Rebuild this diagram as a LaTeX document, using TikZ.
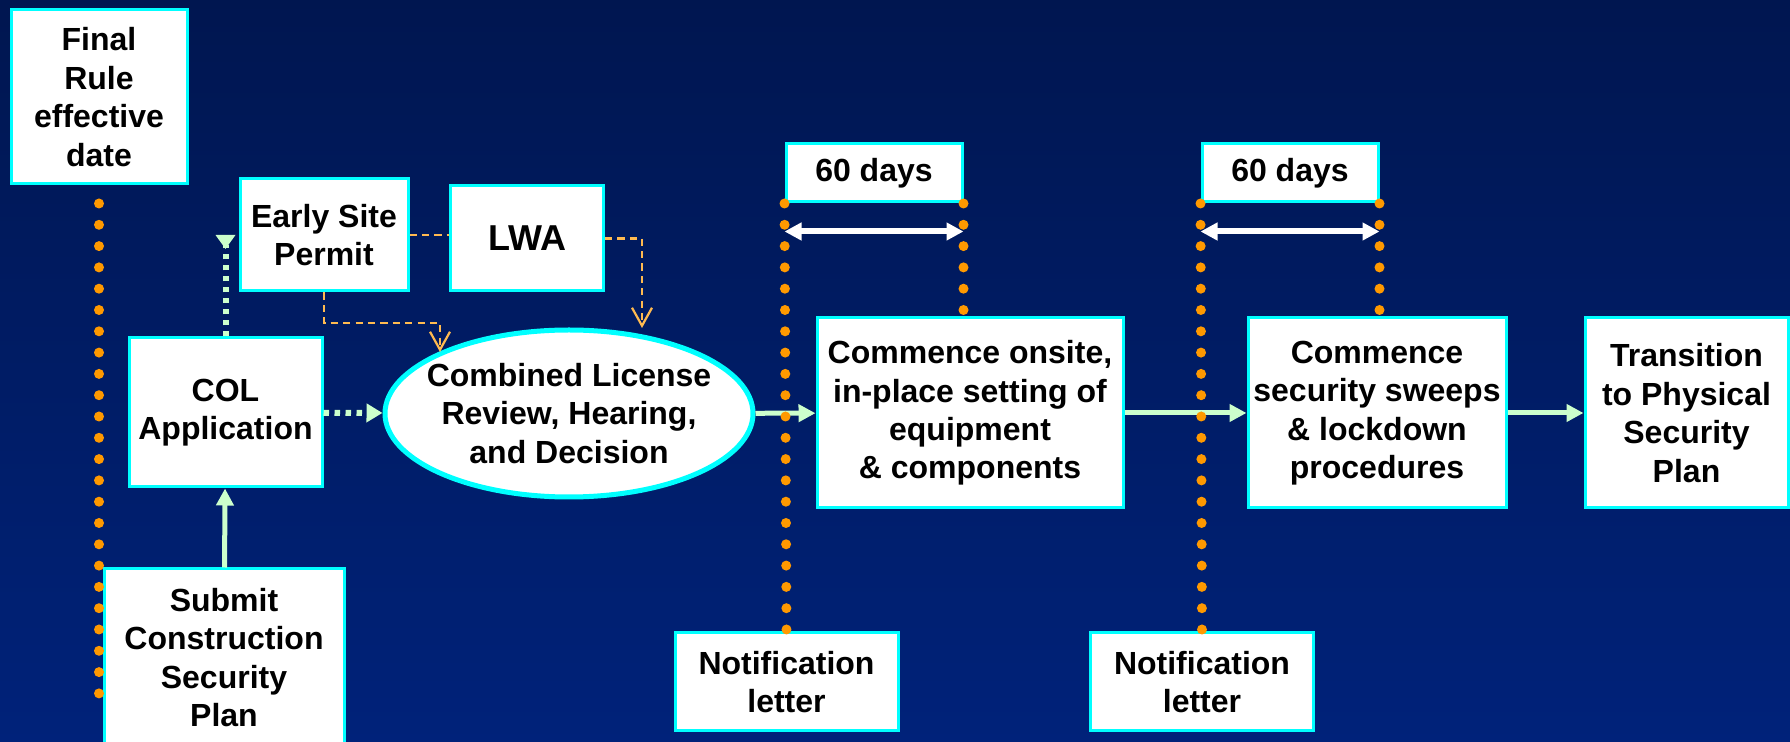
\documentclass[tikz,border=0pt]{standalone}
\usepackage{fontspec}
\setmainfont{Liberation Sans}
\usepackage{tikz}
\usetikzlibrary{arrows.meta, shapes.geometric}

\definecolor{bgtop}{RGB}{0,22,80}
\definecolor{bgbot}{RGB}{0,34,122}
\definecolor{rim}{RGB}{0,255,255}
\definecolor{dotorange}{RGB}{255,153,0}
\definecolor{dashorange}{RGB}{255,186,80}
\definecolor{paleflow}{RGB}{204,255,204}

\begin{document}
\begin{tikzpicture}[x=0.5pt, y=-0.5pt, font=\fontsize{16}{19.2}\selectfont\bfseries,
  stage/.style={draw=rim, fill=white, line width=1.5pt, shape=rectangle, align=center, inner sep=0pt},
  timeline/.style={draw=dotorange, line width=5pt, line cap=round, dash pattern=on 0pt off 10.65pt},
  flow/.style={color=paleflow, line width=2.5pt, -{Triangle[length=8.5pt,width=8.5pt]}},
  dotflow/.style={color=paleflow, line width=3pt, dash pattern=on 2.75pt off 2.75pt},
  permit/.style={draw=dashorange, line width=1.1pt, dash pattern=on 3.6pt off 2.6pt},
  span/.style={draw=white, line width=3pt, {Triangle[length=8.5pt,width=8.5pt]}-{Triangle[length=8.5pt,width=8.5pt]}}]

  \shade[top color=bgtop, bottom color=bgbot] (0,0) rectangle (1790,742);
  \useasboundingbox (0,0) rectangle (1790,742);

  \node[stage, minimum width=88pt, minimum height=87pt] (final) at (99,97) {Final\\Rule\\effective\\date};
  \node[stage, minimum width=84pt, minimum height=56pt] (esp) at (324,235) {Early Site\\Permit};
  \node[stage, minimum width=76.5pt, minimum height=52.5pt, font=\fontsize{18}{21.6}\selectfont\bfseries] (lwa) at (527,238.5) {LWA};
  \node[stage, minimum width=96.5pt, minimum height=74.5pt] (col) at (225.5,412.5) {COL\\Application};
  \node[stage, ellipse, line width=2.5pt, inner xsep=-8pt, inner ysep=0pt, minimum width=184pt, minimum height=83.5pt] (review) at (569,413.5) {Combined License\\Review, Hearing,\\and Decision};
  \node[stage, minimum width=153pt, minimum height=95pt] (onsite) at (970,413) {Commence onsite,\\in-place setting of\\equipment\\\& components};
  \node[stage, minimum width=129pt, minimum height=95pt] (sweeps) at (1377,413) {Commence\\security sweeps\\\& lockdown\\procedures};
  \node[stage, minimum width=101.5pt, minimum height=95pt] (physplan) at (1686.5,413) {Transition\\to Physical\\Security\\Plan};
  \node[stage, minimum width=88pt, minimum height=29pt] (days1) at (874,173) {60 days};
  \node[stage, minimum width=88pt, minimum height=29pt] (days2) at (1290,173) {60 days};
  \node[stage, minimum width=111.5pt, minimum height=49pt] (notice1) at (786.5,682) {Notification\\letter};
  \node[stage, minimum width=111.5pt, minimum height=49pt] (notice2) at (1202,682) {Notification\\letter};
  \node[stage, minimum width=120pt, minimum height=88.5pt] (submit) at (224,657.5) {Submit\\Construction\\Security\\Plan};

  \coordinate (lwadrop) at (642,328);
  \coordinate (espbend) at (440,323);
  \coordinate (espdrop) at (440,352);

  % permits feed the review
  \draw[permit] (esp.east) -- (esp.east -| lwa.west);
  \draw[permit, -{Straight Barb[length=9pt,width=10pt]}] (lwa.east) -| (lwadrop);
  \draw[permit, -{Straight Barb[length=9pt,width=10pt]}] (esp.south) |- (espbend) -- (espdrop);

  \path[dotflow]
    (col.north) edge [-{Triangle[reversed,length=7pt,width=9.5pt]}] (col.north |- esp.west)
    (col) edge [-{Triangle[length=8pt,width=9pt]}] (review);

  \path[flow]
    (submit) edge (col)
    (review) edge (onsite)
    (onsite) edge (sweeps)
    (sweeps) edge (physplan);

  % dotted time marks
  \draw[timeline] ([yshift=-9pt]final.south) -- ++(0,492);
  \draw[timeline] (days1.south west) -- (notice1.north);
  \draw[timeline] (days1.south east) -- (days1.south east |- onsite.north);
  \draw[timeline] (days2.south west) -- (notice2.north);
  \draw[timeline] (days2.south east) -- (days2.south east |- sweeps.north);

  \draw[span] ([yshift=-14pt]days1.south west) -- ([yshift=-14pt]days1.south east);
  \draw[span] ([yshift=-14pt]days2.south west) -- ([yshift=-14pt]days2.south east);
\end{tikzpicture}
\end{document}
